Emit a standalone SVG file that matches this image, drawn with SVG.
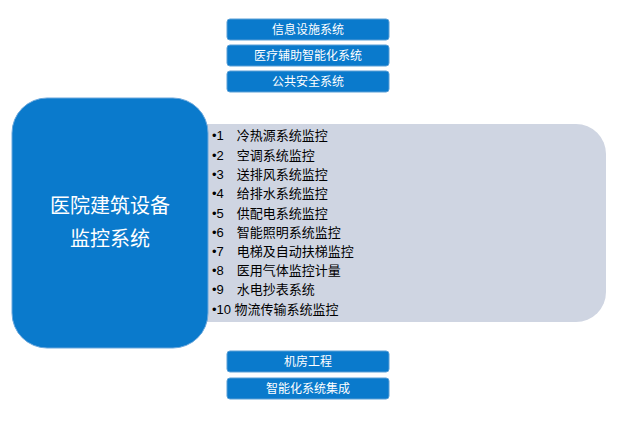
<svg xmlns="http://www.w3.org/2000/svg" width="622" height="430" viewBox="0 0 622 430">
<style>
.b{fill:#0a7acc;stroke:#5a9fd6;stroke-width:1}
.bt{font-family:"Noto Sans CJK SC",sans-serif;font-size:12px;fill:#fff;text-anchor:middle}
.li{font-family:"Liberation Sans","Noto Sans CJK SC",sans-serif;font-size:13px;fill:#000}
</style>
<rect width="622" height="430" fill="#fff"/>
<g id="panel"><path d="M200,124 H576 A30,30 0 0 1 606,154 V292 A30,30 0 0 1 576,322 H200 Z" fill="#cfd5e2"/>
<g class="li">
<text x="212" y="140">•1　冷热源系统监控</text>
<text x="212" y="160">•2　空调系统监控</text>
<text x="212" y="179">•3　送排风系统监控</text>
<text x="212" y="198">•4　给排水系统监控</text>
<text x="212" y="218">•5　供配电系统监控</text>
<text x="212" y="237">•6　智能照明系统监控</text>
<text x="212" y="256">•7　电梯及自动扶梯监控</text>
<text x="212" y="275">•8　医用气体监控计量</text>
<text x="212" y="294">•9　水电抄表系统</text>
<text x="212" y="314">•10 物流传输系统监控</text>
</g></g>
<g id="main"><rect x="12" y="98" width="196" height="250" rx="35" fill="#0a7acc" stroke="#6aa7dc"/>
<text x="110" y="213" font-family="Noto Sans CJK SC,sans-serif" font-size="20" fill="#fff" text-anchor="middle">医院建筑设备</text>
<text x="110" y="246" font-family="Noto Sans CJK SC,sans-serif" font-size="20" fill="#fff" text-anchor="middle">监控系统</text></g>
<g id="n1"><rect class="b" x="227" y="19" width="162" height="21" rx="3"/><text class="bt" x="308" y="34">信息设施系统</text></g>
<g id="n2"><rect class="b" x="227" y="45" width="162" height="21" rx="3"/><text class="bt" x="308" y="60">医疗辅助智能化系统</text></g>
<g id="n3"><rect class="b" x="227" y="71" width="162" height="21" rx="3"/><text class="bt" x="308" y="86">公共安全系统</text></g>
<g id="n4"><rect class="b" x="227" y="351" width="162" height="21" rx="3"/><text class="bt" x="308" y="366">机房工程</text></g>
<g id="n5"><rect class="b" x="227" y="378" width="162" height="21" rx="3"/><text class="bt" x="308" y="393">智能化系统集成</text></g>
<g id="connectors"/>
</svg>
